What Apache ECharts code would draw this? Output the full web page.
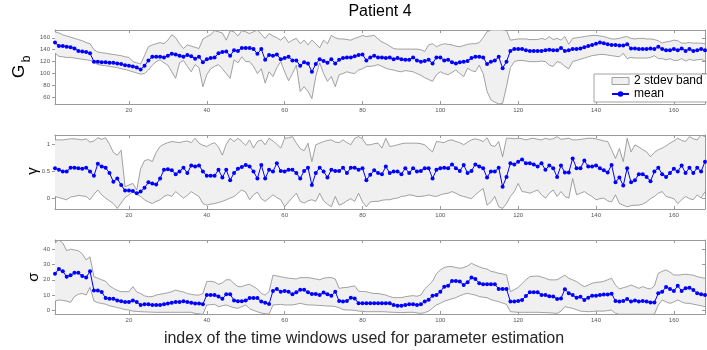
<!DOCTYPE html>
<html>
<head>
<meta charset="utf-8">
<script src="https://cdn.jsdelivr.net/npm/echarts@6/dist/echarts.min.js"></script>
<style>html,body{margin:0;padding:0;background:#fff;}#c{width:707px;height:350px;}</style>
</head>
<body>
<div id="c"></div>
<script>
// ---------- data (window index 1..168) ----------
const xTicks = [20, 40, 60, 80, 100, 120, 140, 160];
const gbTicks = [60, 80, 100, 120, 140, 160];
const gmTicks = [0, 0.5, 1];
const sgTicks = [0, 10, 20, 30, 40];

const gbMean = [152,146,146,145,144,142,138,137,136,134,
120,120,119,119,118,118,117,116,114,113,
112,110,107,113,122,128,128,128,127,130,
133,132,130,128,131,129,125,128,119,124,
126,127,134,136,137,130,139,138,143,143,
143,141,133,141,123,131,130,132,124,126,
128,122,122,113,119,117,103,116,124,121,
118,124,117,123,126,127,127,129,131,132,
122,127,130,127,127,126,127,124,126,124,
123,123,127,122,120,121,123,117,127,127,
122,123,119,117,119,120,121,126,128,128,
127,116,120,122,128,109,120,138,141,141,
141,139,138,138,138,138,139,140,139,139,
143,138,139,141,141,142,144,146,148,150,
152,151,149,148,148,147,147,149,142,142,
141,141,141,142,141,145,141,139,139,141,
139,142,138,141,138,139,141,139];
const gbUpper = [170,168,165,163,161,159,157,155,152,150,
140,136,135,134,133,132,131,130,128,127,
120,118,116,130,145,148,150,152,150,156,
165,160,150,142,148,146,144,142,158,162,
165,172,170,168,156,172,170,163,172,170,
167,170,173,166,159,167,163,160,156,162,
152,156,159,150,156,148,156,150,143,156,
150,164,160,158,158,157,156,159,161,164,
162,163,164,158,153,150,146,142,141,141,
141,141,141,141,140,137,148,150,145,148,
150,149,148,146,145,147,149,150,150,152,
160,170,173,173,173,173,172,156,157,158,
158,158,157,157,157,159,157,162,157,159,
156,162,149,159,160,161,162,163,164,164,
163,162,160,158,158,159,161,162,159,158,
159,159,158,158,157,155,151,153,154,156,
155,151,151,152,151,151,151,150];
const gbLower = [134,129,128,127,127,126,125,124,123,122,
119,115,114,113,112,111,110,108,107,105,
103,101,99,100,106,114,120,123,118,114,
103,92,118,122,112,103,115,110,78,98,
108,112,115,108,100,92,123,118,128,120,
120,112,100,108,84,103,95,110,120,103,
88,100,114,70,78,70,58,95,118,100,
87,95,78,98,100,103,101,100,106,108,
112,112,113,115,112,109,107,106,104,103,
105,104,103,100,97,93,90,87,98,103,
100,98,102,106,100,95,109,105,103,114,
100,70,56,52,49,50,78,110,120,122,
122,121,120,120,120,121,120,114,112,120,
118,112,108,120,122,124,126,128,130,131,
132,132,131,130,129,128,134,125,127,126,
126,126,126,127,130,125,125,123,125,122,
122,125,121,124,122,123,124,121];

const gmMean = [0.56,0.53,0.50,0.50,0.57,0.57,0.56,0.55,0.57,0.50,
0.42,0.64,0.59,0.57,0.47,0.31,0.37,0.25,0.15,0.15,
0.14,0.10,0.13,0.20,0.30,0.28,0.26,0.37,0.53,0.54,
0.52,0.45,0.50,0.57,0.47,0.61,0.59,0.61,0.50,0.42,
0.42,0.42,0.53,0.39,0.53,0.34,0.47,0.55,0.58,0.62,
0.59,0.50,0.37,0.62,0.37,0.53,0.50,0.65,0.51,0.50,
0.53,0.53,0.47,0.37,0.51,0.57,0.25,0.47,0.57,0.50,
0.39,0.53,0.51,0.51,0.57,0.47,0.57,0.57,0.53,0.56,
0.34,0.44,0.52,0.47,0.45,0.59,0.47,0.50,0.50,0.45,
0.56,0.47,0.56,0.50,0.51,0.56,0.56,0.37,0.53,0.56,
0.57,0.56,0.63,0.56,0.51,0.62,0.47,0.51,0.63,0.59,
0.56,0.39,0.50,0.50,0.57,0.22,0.40,0.65,0.63,0.68,
0.72,0.65,0.65,0.63,0.59,0.65,0.53,0.61,0.56,0.40,
0.61,0.48,0.48,0.74,0.56,0.56,0.70,0.59,0.59,0.61,
0.56,0.52,0.48,0.62,0.30,0.39,0.24,0.56,0.30,0.34,
0.45,0.45,0.40,0.32,0.50,0.57,0.45,0.40,0.47,0.55,
0.50,0.61,0.47,0.57,0.47,0.57,0.50,0.68];
const gmUpper = [1.08,1.08,1.08,1.09,1.10,1.10,1.09,1.08,1.10,1.04,
1.06,1.12,1.09,1.12,1.00,0.85,0.80,0.89,0.22,0.25,
0.28,0.16,0.55,0.70,0.72,0.68,0.85,0.96,1.00,1.03,
1.05,1.04,1.03,1.05,1.06,1.03,1.11,1.02,0.98,0.96,
1.00,1.03,0.95,0.80,1.00,1.11,1.05,1.11,1.05,0.98,
1.08,0.93,1.05,1.08,0.99,1.11,1.06,1.00,0.93,1.11,
1.12,1.14,1.02,0.92,0.88,1.02,0.68,0.99,1.02,1.05,
1.07,1.08,1.04,1.03,1.08,1.03,0.99,1.11,1.14,1.10,
0.99,0.99,1.01,1.02,0.93,1.11,0.96,0.97,0.99,1.01,
1.02,1.02,1.02,1.02,1.01,0.99,0.92,0.86,1.05,1.04,
1.03,1.07,1.08,1.05,1.03,0.99,1.04,1.08,1.10,1.08,
1.05,1.12,0.98,0.96,1.05,0.77,1.11,1.11,1.10,1.11,
1.10,1.08,1.10,1.11,1.09,1.08,1.11,1.09,1.10,1.14,
1.09,1.10,1.11,1.08,1.08,1.09,1.10,1.11,1.11,1.10,
1.08,1.06,1.05,0.90,0.74,0.92,0.68,1.11,0.86,0.99,
0.95,0.90,0.86,0.77,0.85,0.90,0.93,0.97,1.02,1.06,
1.11,1.07,1.05,1.14,1.10,1.08,1.17,1.14];
const gmLower = [0.04,0.02,0.00,-0.02,0.03,0.04,0.06,0.05,0.04,-0.02,
0.08,0.16,0.07,0.01,-0.04,-0.09,-0.18,-0.08,0.02,0.07,
0.13,0.08,0.04,-0.02,-0.06,-0.09,-0.05,-0.02,0.04,0.07,
0.04,0.13,0.07,0.01,0.06,0.13,0.08,0.04,-0.09,-0.12,
-0.10,-0.09,-0.07,-0.05,-0.02,0.01,0.04,0.10,0.16,0.12,
-0.02,0.07,0.12,0.00,-0.05,0.01,0.07,0.02,-0.02,-0.15,
-0.06,0.02,0.10,-0.05,-0.08,-0.04,-0.02,-0.05,0.10,-0.04,
-0.10,-0.15,0.04,-0.12,-0.09,-0.04,0.00,-0.05,0.10,-0.06,
-0.15,-0.06,-0.05,-0.05,-0.03,-0.02,-0.02,0.00,0.01,0.04,
0.05,0.07,0.06,0.04,0.04,0.05,0.07,0.05,0.04,0.07,
0.09,0.10,0.13,0.10,0.06,0.04,0.02,0.00,0.07,0.13,
0.19,-0.12,-0.06,0.04,-0.15,-0.18,-0.09,0.04,0.13,0.28,
0.13,0.12,0.10,0.13,0.16,0.07,0.01,0.10,0.16,0.04,
0.13,0.04,0.01,0.37,0.07,0.10,0.13,0.08,0.04,-0.02,
0.00,0.01,-0.04,-0.06,0.07,-0.09,-0.12,-0.15,-0.13,-0.12,
-0.12,-0.10,-0.06,0.00,0.04,0.10,0.13,0.04,0.02,0.00,
-0.09,-0.02,0.04,0.00,-0.02,0.07,0.01,0.13];

const sgMean = [24,27,25.5,22,23,24.5,24.5,22.5,21.5,25.5,
13,13,12,8,7.5,7.5,6.5,6,5.5,5.5,
6.5,5.5,3.5,4,4,3.5,3.5,3.5,4,4.5,
5,5.5,5.5,6,5.5,5,4.5,4.5,4,10,
10,10,9,7.5,10.5,10.5,6.5,6,6,6.5,
8,8,8,5.7,5,4.1,12.7,14,12.2,12.7,
12.2,10.5,11.8,13.5,13.5,11.8,10.7,10.7,10,11.6,
10.5,9.6,12.2,6.1,5.7,6.1,8.3,7.8,4.6,4.6,
4.6,4.6,4.6,4.6,4.6,4.6,4.6,3.5,3,3,
3.5,3.9,3.9,3.5,3.9,5.7,7,9.6,10,12.2,
15.5,16,19.2,19.2,18.8,16.6,18.3,21.4,20.5,17.7,
17,17,17,17,14,14,14,5.7,5.7,6.1,
6.8,9.4,11.8,11.8,11.8,10,10,9.2,9,7.4,
7.8,13.8,11.1,10,8.3,8.9,6.8,8.3,9.6,9.6,
10,10.3,10.3,10.9,6.1,5.7,6.1,7.4,5.7,6.5,
5.7,6.1,5.7,5.2,5.2,11.1,12.2,15.3,14,12.7,
16,12.7,14.4,14.8,13.3,11.1,10.5,10];
const sgUpper = [44,46,44,39,40,39.5,39,37,33,35,
22,21,20,19,16,14.4,13,12.2,12.2,12.2,
15.5,12,11,9.5,8.9,9,10,10.5,11,11.5,
12.2,13.3,12.5,12,11,10.5,10,10,11,18.8,
19,18.5,17,18,20,20,17.5,15.5,15.5,16.5,
17,15.5,14,11,10,12.2,23,22.5,22,21.5,
21,20.8,20.5,21.4,21.4,21.4,21,20.5,20,21,
21.4,21.4,20.5,14.4,14.8,15,15.5,16,12.5,12.3,
12.2,11.5,11,11,10.5,10,9,8.3,8.3,8.3,
8.9,9.3,9.6,9.2,10,14,16.5,19,24,26.4,
28,28.6,28.6,28,27.5,28,29,30.8,29.5,28.5,
27.5,27,25.5,25,24.2,23.8,23.1,12.2,13.5,15,
17.5,20,22,22.3,22.5,21.8,21,20,19.9,20,
21.5,23,21,19.9,18.8,17,15.5,16.5,17.7,18.3,
18.5,19,20,21,16.6,14,14.8,15.5,16.6,15.5,
14.4,15.5,14.5,14,16,24.2,25.5,26.4,25,23.1,
23.1,23.3,23.6,23.3,23,22,21.5,21];
const sgLower = [6,6.8,6.5,6,5.2,9,10.5,11,10,15,
6.1,5,4.5,4,3,2.4,1.8,1.2,0.5,0.2,
-0.5,-0.7,-0.9,-1,-1.1,-1.2,-1.3,-1.3,-1.3,-1.3,
-1.3,-1.3,-1.3,-1.3,-1.3,-1.3,-2,-2.3,-2.6,3.5,
3.7,3.9,2.4,3,3.5,2.5,1.7,1.3,2.4,3.5,
1,0,-0.9,-1.8,-2.2,-2.5,3.5,3.7,3.9,3.5,
3.5,3.5,4,4.6,4,3.5,3.5,3.3,3.2,3,
2.8,2.8,2.5,1.7,0.5,0.2,0.2,0,-0.5,-0.7,
-0.9,-0.9,-0.9,-0.9,-0.9,-1,-1.2,-1.3,-1.4,-1.5,
-1.4,-1.3,-1.3,-1.7,-2,-1.5,-0.5,1.5,3.5,4.6,
6,6.8,7.5,8.3,9.5,10.5,11.1,10.5,10,9,
8.6,8.3,7,6.3,5.7,4.8,3.9,-0.9,-1.1,-1.3,
-1.3,-1.3,-1.3,-1.3,-1.3,-1.4,-1.5,-1.6,-1.8,-2,
-0.5,2.4,1.8,1.3,0.4,-0.5,-0.7,-0.9,-0.8,-0.5,
-0.5,-0.5,-0.2,0.2,-2,-2.6,-2.6,-2.6,-2.6,-2.6,
-2.6,-2.6,-2.6,-2.6,-2.6,3.5,6.8,5.5,4.6,5.5,
6.8,5.5,4.6,4.6,4,3.5,3,2.4];

// ---------- chart ----------
const FONT = "'Liberation Sans', Arial, Helvetica, sans-serif";
const windowIndex = gbMean.map((_, i) => i + 1);
const pairs = arr => arr.map((v, i) => [windowIndex[i], v]);

const panels = [
  {top: 30, min: 49, max: 173, ticks: gbTicks, mean: gbMean, up: gbUpper, lo: gbLower},
  {top: 135, min: -0.19, max: 1.17, ticks: gmTicks, mean: gmMean, up: gmUpper, lo: gmLower},
  {top: 240, min: -2.4, max: 46, ticks: sgTicks, mean: sgMean, up: sgUpper, lo: sgLower}
];

const BOX = '#9a9a9a';
const EDGE = '#8a8a8a';
const grids = [], xAxes = [], yAxes = [], series = [];

function bandRenderer(up, lo) {
  return function (params, api) {
    if (params.dataIndex !== 0) return null;
    const upPts = up.map((v, i) => api.coord([windowIndex[i], v]));
    const loPts = lo.map((v, i) => api.coord([windowIndex[i], v]));
    const poly = upPts.concat(loPts.slice().reverse());
    const cs = params.coordSys;
    return {
      type: 'group',
      clipPath: {type: 'rect', shape: {x: cs.x, y: cs.y, width: cs.width, height: cs.height}},
      children: [
        {type: 'polygon', shape: {points: poly}, style: {fill: '#f0f0f0', stroke: null}},
        {type: 'polyline', shape: {points: upPts}, style: {fill: null, stroke: EDGE, lineWidth: 0.8}},
        {type: 'polyline', shape: {points: loPts}, style: {fill: null, stroke: EDGE, lineWidth: 0.8}}
      ]
    };
  };
}

panels.forEach((p, k) => {
  grids.push({left: 55, width: 650, top: p.top, height: 74, containLabel: false});
  const xBase = {gridIndex: k, type: 'value', min: 1, max: windowIndex.length, splitLine: {show: false},
    axisLine: {show: true, onZero: false, lineStyle: {color: BOX, width: 1}}};
  xAxes.push(Object.assign({}, xBase, {position: 'bottom',
    axisTick: {show: true, inside: true, length: 3, customValues: xTicks, lineStyle: {color: BOX}},
    axisLabel: {show: true, customValues: xTicks, fontSize: 6, margin: 3, color: '#555', fontFamily: FONT}}));
  xAxes.push(Object.assign({}, xBase, {position: 'top',
    axisTick: {show: true, inside: true, length: 3, customValues: xTicks, lineStyle: {color: BOX}},
    axisLabel: {show: false}}));
  const yBase = {gridIndex: k, type: 'value', min: p.min, max: p.max, splitLine: {show: false},
    axisLine: {show: true, onZero: false, lineStyle: {color: BOX, width: 1}}};
  yAxes.push(Object.assign({}, yBase, {position: 'left',
    axisTick: {show: true, inside: false, length: 3, customValues: p.ticks, lineStyle: {color: BOX}},
    axisLabel: {show: true, customValues: p.ticks, fontSize: 6, margin: 5, color: '#555', fontFamily: FONT}}));
  yAxes.push(Object.assign({}, yBase, {position: 'right',
    axisTick: {show: true, inside: true, length: 3, customValues: p.ticks, lineStyle: {color: BOX}},
    axisLabel: {show: false}}));

  series.push({name: '2 stdev band', type: 'custom', xAxisIndex: 2 * k, yAxisIndex: 2 * k,
    data: [[windowIndex[0], p.lo[0]]], encode: {x: 0, y: 1},
    renderItem: bandRenderer(p.up, p.lo), itemStyle: {color: '#f0f0f0'}, silent: true, z: 1});
  series.push({name: 'mean', type: 'line', xAxisIndex: 2 * k, yAxisIndex: 2 * k,
    data: pairs(p.mean), symbol: 'circle', symbolSize: 4, showAllSymbol: true,
    lineStyle: {color: '#0000ff', width: 1}, itemStyle: {color: '#0000ff'}, z: 3});
});

const txt = (text, x, y, size, rot, color) => ({
  type: 'text', x: x, y: y, rotation: rot || 0, z: 100,
  style: {text: text, fontSize: size, fontFamily: FONT, fill: color || '#000',
    align: 'center', verticalAlign: 'middle', textAlign: 'center', textVerticalAlign: 'middle'}
});

const option = {
  animation: false,
  backgroundColor: '#fff',
  grid: grids,
  xAxis: xAxes,
  yAxis: yAxes,
  series: series,
  legend: {
    data: [
      {name: '2 stdev band', icon: 'rect', itemStyle: {color: '#f0f0f0', borderColor: EDGE, borderWidth: 0.8}},
      {name: 'mean'}
    ],
    orient: 'vertical', left: 594, top: 74, itemWidth: 17, itemHeight: 7, itemGap: 1,
    padding: [1, 14, 2, 17], backgroundColor: '#fff', borderColor: EDGE, borderWidth: 0.8,
    textStyle: {fontSize: 12, color: '#000', fontFamily: FONT}, selectedMode: false, z: 20
  },
  graphic: [
    txt('Patient 4', 380, 12, 16, 0, '#000'),
    txt('index of the time windows used for parameter estimation', 364, 339, 16, 0, '#262626'),
    txt('G', 19, 71.5, 17, Math.PI / 2, '#000'),
    txt('b', 26.5, 59, 12, Math.PI / 2, '#000'),
    txt('γ', 33, 171, 15, Math.PI / 2, '#000'),
    txt('σ', 34, 277, 15, Math.PI / 2, '#000')
  ]
};

const chart = echarts.init(document.getElementById('c'), null, {renderer: 'canvas'});
chart.setOption(option);
</script>
</body>
</html>
